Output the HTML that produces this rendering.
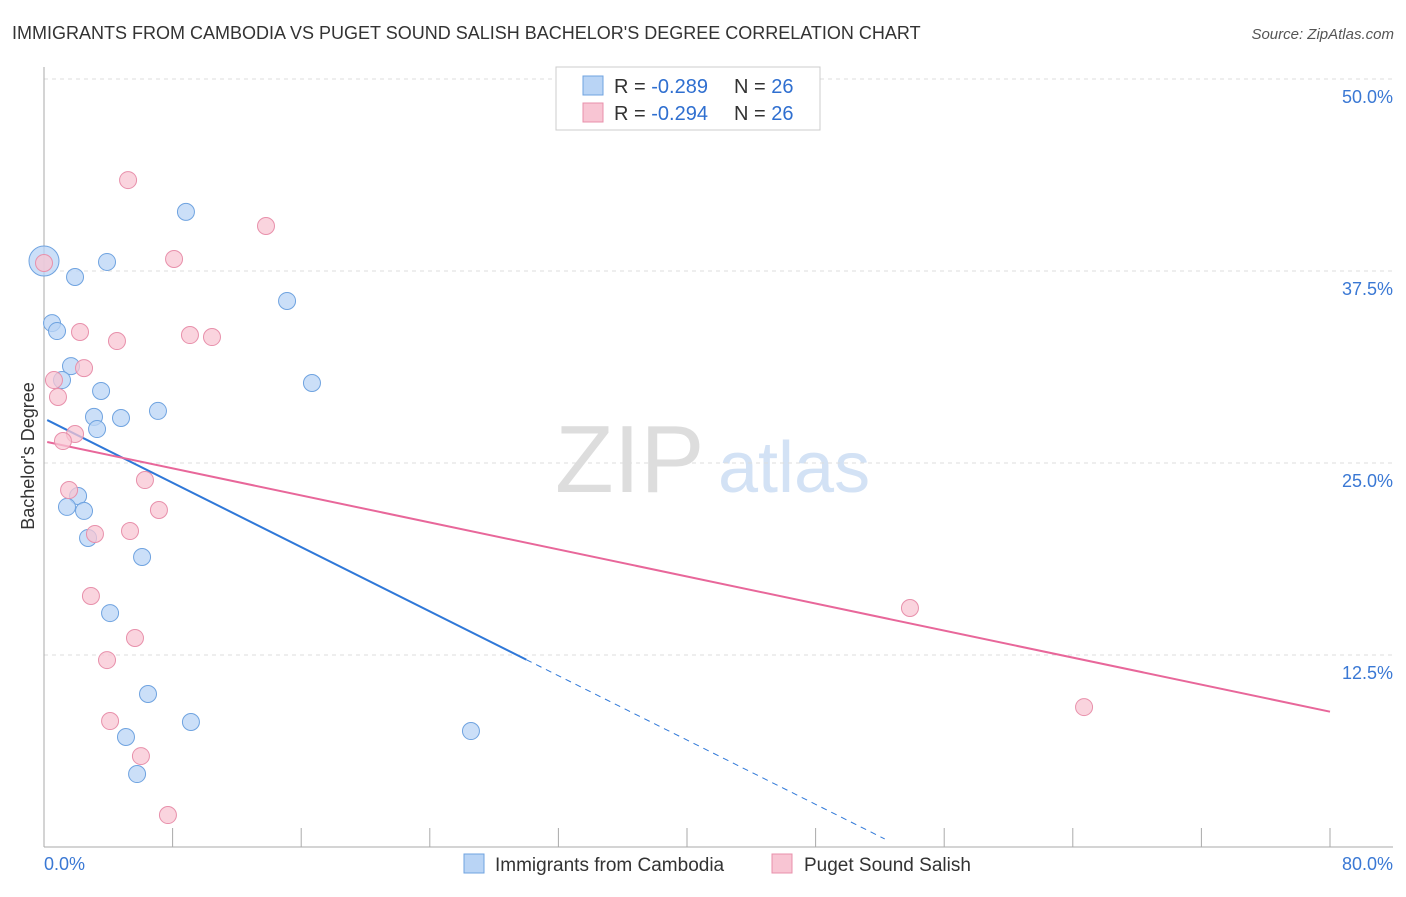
<!DOCTYPE html>
<html><head><meta charset="utf-8"><style>
body{margin:0;background:#fff;font-family:"Liberation Sans",sans-serif;}
svg text{font-family:"Liberation Sans",sans-serif;}
</style></head><body>
<svg id="chart" width="1406" height="892" viewBox="0 0 1406 892" xmlns="http://www.w3.org/2000/svg">
<text x="12" y="39" font-size="18" fill="#333">IMMIGRANTS FROM CAMBODIA VS PUGET SOUND SALISH BACHELOR'S DEGREE CORRELATION CHART</text>
<text x="1394" y="39" font-size="15" fill="#555" text-anchor="end" font-style="italic">Source: ZipAtlas.com</text>
<g>
<text x="555" y="492" font-size="96" fill="#ddd" font-family="Liberation Serif,serif">ZIP</text>
<text x="718" y="492" font-size="72" fill="#d3e2f5">atlas</text>
</g>
<g id="grid"></g>
<g id="axes"></g>
<text transform="translate(34,456) rotate(-90)" font-size="18" fill="#333" text-anchor="middle">Bachelor's Degree</text>
<g id="lines"></g>
<g id="points"></g>
<g>
<rect x="556" y="67" width="264" height="63" fill="#fff" stroke="#ccc"/>
<rect x="583" y="76" width="20" height="19" fill="#b9d4f5" stroke="#6fa3e0"/>
<rect x="583" y="103" width="20" height="19" fill="#f8c5d3" stroke="#e890ab"/>
<text x="614" y="93" font-size="20" fill="#333">R = <tspan fill="#2f6fd0">-0.289</tspan><tspan x="734">N = </tspan><tspan fill="#2f6fd0">26</tspan></text>
<text x="614" y="120" font-size="20" fill="#333">R = <tspan fill="#2f6fd0">-0.294</tspan><tspan x="734">N = </tspan><tspan fill="#2f6fd0">26</tspan></text>
</g>
<g>
<rect x="464" y="854" width="20" height="19" fill="#b9d4f5" stroke="#6fa3e0"/>
<text x="495" y="871" font-size="19" fill="#333">Immigrants from Cambodia</text>
<rect x="772" y="854" width="20" height="19" fill="#f8c5d3" stroke="#e890ab"/>
<text x="804" y="871" font-size="19" fill="#333">Puget Sound Salish</text>
</g>
</svg>
<script>
const yTicks=[12.5,25,37.5,50];
const yTickLabels=["12.5%","25.0%","37.5%","50.0%"];
const xTicks=[0,8,16,24,32,40,48,56,64,72,80];
const xTickLabels=["0.0%","80.0%"];
const blueX=[0,3.92,1.93,8.83,15.12,0.5,0.81,1.68,1.12,3.55,16.67,3.11,4.79,7.09,3.3,2.12,1.43,2.49,2.74,6.1,4.11,6.47,9.14,5.1,5.79,26.56];
const blueY=[38.15,38.09,37.11,41.35,35.55,34.11,33.59,31.31,30.4,29.69,30.21,28,27.93,28.39,27.21,22.85,22.14,21.88,20.12,18.88,15.23,9.96,8.14,7.16,4.75,7.55];
const pinkX=[5.23,13.81,8.09,0,2.24,4.54,9.08,10.45,2.49,0.62,0.87,1.93,1.18,6.28,1.56,7.15,3.17,5.35,2.92,5.66,3.92,4.11,6.03,7.71,53.87,64.7];
const pinkY=[43.42,40.43,38.28,38.02,33.53,32.94,33.33,33.2,31.18,30.4,29.3,26.89,26.43,23.89,23.24,21.94,20.38,20.57,16.34,13.61,12.17,8.2,5.92,2.08,15.56,9.11];
const blueTrend=[27.9,-0.5234];
const pinkTrend=[26.41,-0.22];
const X=v=>44+v/80*1286, Y=v=>847-v*15.36;
const NS="http://www.w3.org/2000/svg";
function mk(parent,tag,attrs){const e=document.createElementNS(NS,tag);for(const k in attrs)e.setAttribute(k,attrs[k]);parent.appendChild(e);return e;}
const grid=document.getElementById('grid'),axes=document.getElementById('axes');
yTicks.forEach((t,i)=>{
 const l=mk(grid,'line',{x1:44,x2:1393,y1:Y(t),y2:Y(t),stroke:'#ddd','stroke-dasharray':'4,4'});
 
 
 const tx=mk(axes,'text',{x:1393,y:Y(t)+24,'font-size':18,fill:'#3a78d4','text-anchor':'end'});
 tx.textContent=yTickLabels[i];
 
 
});
const ax=mk(axes,'line',{x1:44,x2:1393,y1:847,y2:847,stroke:'#aaa'});


const ay=mk(axes,'line',{x1:44,x2:44,y1:67,y2:847,stroke:'#aaa'});


xTicks.forEach(t=>{
 const l=mk(axes,'line',{x1:X(t),x2:X(t),y1:828,y2:847,stroke:'#aaa'});
 
 
});
const xl0=mk(axes,'text',{x:44,y:870,'font-size':18,fill:'#3a78d4'});xl0.textContent=xTickLabels[0];


const xl1=mk(axes,'text',{x:1393,y:870,'font-size':18,fill:'#3a78d4','text-anchor':'end'});xl1.textContent=xTickLabels[1];


const pts=document.getElementById('points');
function series(xs,ys,fill,stroke,name){xs.forEach((x,i)=>{
 const c=mk(pts,'circle',{cx:X(x),cy:Y(ys[i]),r:(i===0&&name==='point-cambodia')?15:8.5,fill:fill,'fill-opacity':0.75,stroke:stroke,'stroke-width':1});
 
 
});}
series(blueX,blueY,'#b9d4f5','#6fa3e0','point-cambodia');
series(pinkX,pinkY,'#f8c5d3','#e890ab','point-salish');
const lines=document.getElementById('lines');
const f=(t,x)=>t[0]+t[1]*x;
const bl=mk(lines,'line',{x1:X(0.2),y1:Y(f(blueTrend,0.2)),x2:X(30),y2:Y(f(blueTrend,30)),stroke:'#2f78d8','stroke-width':2});


const bd=mk(lines,'line',{x1:X(30),y1:Y(f(blueTrend,30)),x2:X(52.3),y2:Y(f(blueTrend,52.3)),stroke:'#2f78d8','stroke-width':1,'stroke-dasharray':'6,5'});


const pl=mk(lines,'line',{x1:X(0.2),y1:Y(f(pinkTrend,0.2)),x2:X(80),y2:Y(f(pinkTrend,80)),stroke:'#e8679a','stroke-width':2});


</script>
</body></html>
